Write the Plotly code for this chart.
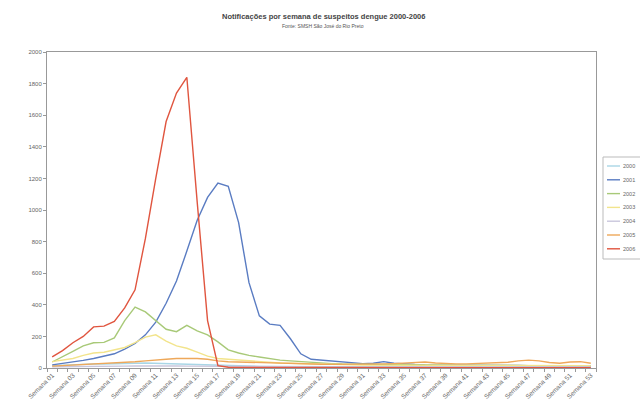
import plotly.graph_objects as go

weeks = ["Semana %02d" % i for i in range(1, 54)]
years = ["2000", "2001", "2002", "2003", "2004", "2005", "2006"]
colors = ["#a9d6e6", "#5a7cc2", "#a8c978", "#f2e48c", "#c9c6dc", "#eea85a", "#e0553f"]

s2000 = [15, 18, 20, 22, 25, 25, 28, 30, 30, 32, 30, 28, 25, 22, 20, 18, 15, 14, 12, 12,
         10, 10, 10, 9, 9, 8, 8, 8, 7, 7, 7, 6, 6, 6, 6, 6, 5, 5, 5, 5,
         5, 5, 5, 6, 6, 6, 6, 6, 6, 5, 5, 5, 5]
s2001 = [20, 28, 38, 48, 60, 75, 90, 120, 155, 210, 290, 410, 550, 740, 935, 1080, 1170, 1150, 920, 540,
         330, 278, 270, 185, 90, 55, 50, 45, 38, 32, 28, 30, 40, 30, 24, 22, 20, 20, 19, 18,
         18, 17, 17, 16, 16, 16, 15, 15, 15, 15, 14, 14, 14]
s2002 = [38, 70, 105, 140, 160, 162, 190, 300, 385, 355, 300, 245, 230, 270, 235, 210, 165, 115, 95, 80,
         70, 60, 50, 45, 40, 35, 30, 28, 25, 24, 22, 21, 20, 20, 19, 18, 18, 17, 17, 16,
         16, 16, 15, 15, 15, 15, 15, 15, 14, 14, 14, 14, 14]
s2003 = [40, 50, 60, 80, 95, 100, 115, 130, 160, 195, 210, 170, 140, 125, 100, 75, 60, 55, 50, 45,
         40, 36, 32, 30, 28, 25, 24, 22, 20, 20, 19, 18, 18, 17, 17, 16, 16, 16, 15, 15,
         15, 15, 15, 16, 16, 17, 18, 18, 18, 17, 16, 15, 15]
s2004 = [8, 8, 9, 10, 10, 11, 12, 12, 13, 14, 14, 14, 13, 12, 12, 11, 10, 10, 9, 9,
         8, 8, 8, 7, 7, 7, 7, 6, 6, 6, 6, 6, 6, 6, 6, 6, 6, 6, 6, 6,
         6, 6, 6, 7, 7, 7, 7, 7, 7, 7, 7, 6, 6]
s2005 = [12, 15, 18, 22, 26, 30, 32, 35, 40, 45, 48, 55, 60, 62, 60, 55, 45, 40, 38, 35,
         32, 30, 28, 26, 25, 24, 24, 23, 23, 22, 22, 24, 26, 28, 30, 35, 38, 32, 28, 26,
         26, 28, 30, 32, 36, 45, 50, 45, 35, 30, 38, 40, 30]
s2006 = [70, 110, 160, 200, 260, 265, 295, 380, 495, 820, 1200, 1560, 1740, 1840, 1050, 300, 15, 5, 3, 3,
         2, 2, 2, 2, 2, 2, 2, 2, 2, 2, 2, 2, 2, 2, 2, 2, 2, 2, 2, 2,
         2, 2, 2, 2, 2, 2, 2, 2, 2, 2, 2, 2, 2]
series = [s2000, s2001, s2002, s2003, s2004, s2005, s2006]

yticks = list(range(0, 2001, 200))
ticktext = [w if i % 2 == 0 else "" for i, w in enumerate(weeks)]

fig = go.Figure()
for name, vals, col in zip(years, series, colors):
    fig.add_trace(go.Scatter(x=weeks, y=vals, mode="lines", name=name,
                             line=dict(color=col, width=1.4), showlegend=False))

L, R, T, B = 47, 44, 52, 47
W, H = 640, 415
pw, ph = W - L - R, H - T - B


def px(xp):
    return (xp - L) / pw


def py(yp):
    return (H - B - yp) / ph


fig.update_layout(
    width=W, height=H,
    margin=dict(l=L, r=R, t=T, b=B),
    paper_bgcolor="white", plot_bgcolor="white",
    font=dict(family="Liberation Sans, Arial, sans-serif", color="#666666", size=6),
    xaxis=dict(type="category", tickvals=weeks, ticktext=ticktext, tickangle=-45,
               tickson="boundaries", ticks="outside", ticklen=3, tickcolor="#999999",
               showline=True, linecolor="#999999", linewidth=1, mirror=True,
               showgrid=False, zeroline=False, tickfont=dict(size=6.5, color="#666666"),
               range=[-0.5, 52.5]),
    yaxis=dict(range=[0, 2000], tickvals=yticks, ticks="outside", ticklen=3,
               tickcolor="#999999", showline=True, linecolor="#999999", linewidth=1,
               mirror=True, showgrid=False, zeroline=False,
               tickfont=dict(size=6, color="#666666")),
)

# title and subtitle
fig.add_annotation(text="<b>Notificações por semana de suspeitos dengue 2000-2006</b>",
                   xref="paper", yref="paper", x=px(323), y=py(16), showarrow=False,
                   font=dict(size=7.5, color="#444444"), xanchor="center", yanchor="middle")
fig.add_annotation(text="Fonte: SMSH São José do Rio Preto",
                   xref="paper", yref="paper", x=px(323), y=py(26), showarrow=False,
                   font=dict(size=5, color="#555555"), xanchor="center", yanchor="middle")

# manual legend
fig.add_shape(type="rect", xref="paper", yref="paper", x0=px(603), x1=px(650),
              y0=py(157), y1=py(259), line=dict(color="#bbbbbb", width=1), fillcolor="white")
for i, (name, col) in enumerate(zip(years, colors)):
    yy = 166 + 13.8 * i
    fig.add_shape(type="line", xref="paper", yref="paper", x0=px(607), x1=px(620),
                  y0=py(yy), y1=py(yy), line=dict(color=col, width=1.4))
    fig.add_annotation(text=name, xref="paper", yref="paper", x=px(621), y=py(yy),
                       showarrow=False, xanchor="left", yanchor="middle",
                       font=dict(size=5.5, color="#666666"))

fig.write_html("out.html")
